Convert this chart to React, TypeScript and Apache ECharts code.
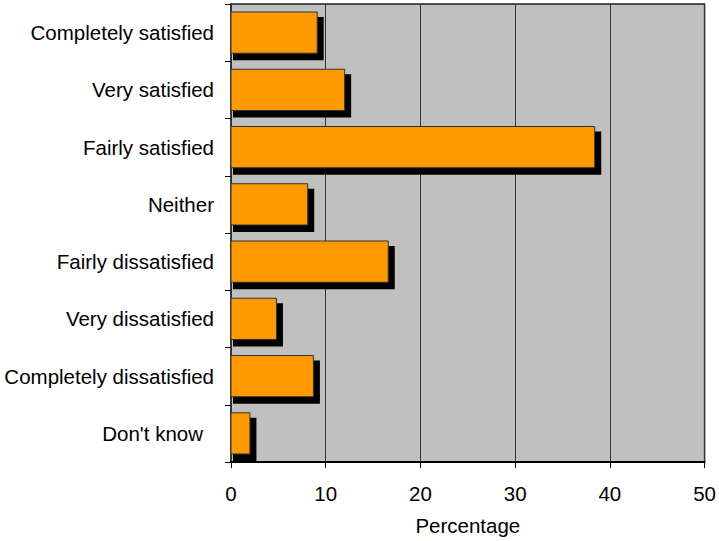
import React, { useEffect, useRef } from "react";
import * as echarts from "echarts";

const categories = [
  "Completely satisfied",
  "Very satisfied",
  "Fairly satisfied",
  "Neither",
  "Fairly dissatisfied",
  "Very dissatisfied",
  "Completely dissatisfied",
  "Don't know",
];
const values = [9.1, 12.0, 38.4, 8.1, 16.6, 4.8, 8.7, 2.0];
const xTicks = [0, 10, 20, 30, 40, 50];

export default function App() {
  const ref = useRef<HTMLDivElement>(null);
  useEffect(() => {
    const chart = echarts.init(ref.current!, null, { renderer: "svg" });
    const font = "'Liberation Sans', Arial, sans-serif";
    const fs = 20.5;
    chart.setOption({
      animation: false,
      backgroundColor: "#ffffff",
      grid: {
        left: 231,
        top: 4,
        right: 12,
        bottom: 74,
        show: true,
        backgroundColor: "#c0c0c0",
        borderColor: "#222",
        borderWidth: 1.5,
      },
      xAxis: {
        type: "value",
        min: xTicks[0],
        max: xTicks[xTicks.length - 1],
        interval: 10,
        name: "Percentage",
        nameLocation: "middle",
        nameGap: 53,
        nameTextStyle: { fontFamily: font, fontSize: fs, color: "#000" },
        axisLine: { show: true, lineStyle: { color: "#000", width: 2 } },
        axisTick: { show: true, length: 6, lineStyle: { color: "#000" } },
        axisLabel: { fontFamily: font, fontSize: fs, color: "#000", margin: 21 },
        splitLine: { show: true, lineStyle: { color: "#333", width: 1 } },
      },
      yAxis: {
        type: "category",
        inverse: true,
        data: categories,
        axisLine: { show: true, lineStyle: { color: "#333", width: 1.5 } },
        axisTick: { show: true, length: 6, lineStyle: { color: "#000" } },
        axisLabel: {
          fontFamily: font,
          fontSize: fs,
          color: "#000",
          margin: 17,
          formatter: (v: string) => (v === "Don't know" ? "{dk|" + v + "}" : v),
          rich: {
            dk: { fontFamily: font, fontSize: fs, color: "#000", padding: [0, 11, 0, 0] },
          },
        },
        splitLine: { show: false },
      },
      series: [
        {
          type: "custom",
          data: values.map((v, i) => [v, i]),
          encode: { x: 0, y: 1 },
          renderItem: (params: any, api: any) => {
            const c = api.value(1);
            const p0 = api.coord([0, c]);
            const p1 = api.coord([api.value(0), c]);
            const band = api.size([0, 1])[1];
            const h = band * 0.72;
            const x0 = p0[0];
            const y0 = p0[1] - h / 2;
            const w = p1[0] - p0[0];
            return {
              type: "group",
              children: [
                {
                  type: "rect",
                  shape: { x: x0 + 2, y: y0 + 5, width: w + 4.5, height: h + 2 },
                  style: { fill: "#000" },
                },
                {
                  type: "rect",
                  shape: { x: x0, y: y0, width: w, height: h },
                  style: { fill: "#ff9900", stroke: "#333", lineWidth: 1 },
                },
              ],
            };
          },
        },
      ],
    });
    return () => chart.dispose();
  }, []);
  return <div ref={ref} style={{ width: 719, height: 541, position: "absolute", left: 0, top: 0 }} />;
}
